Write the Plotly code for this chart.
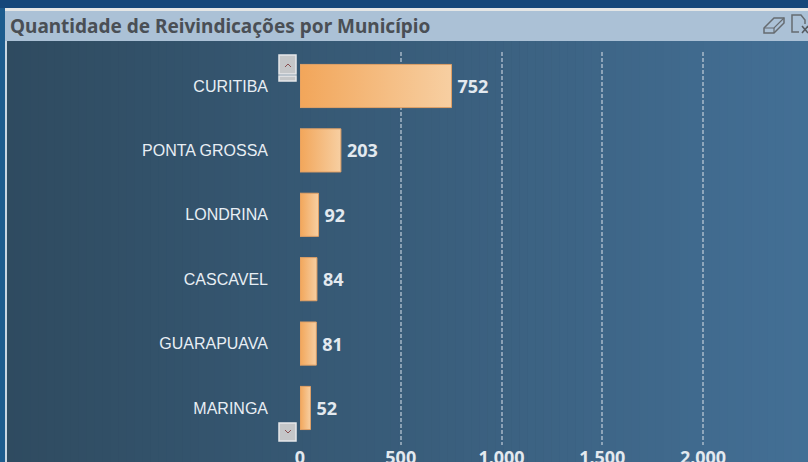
import plotly.graph_objects as go

municipios = ["CURITIBA", "PONTA GROSSA", "LONDRINA", "CASCAVEL", "GUARAPUAVA", "MARINGA"]
reivindicacoes = [752, 203, 92, 84, 81, 52]
tick_vals = [0, 500, 1000, 1500, 2000]
tick_text = ["0", "500", "1.000", "1.500", "2.000"]
titulo = "Quantidade de Reivindicações por Município"

W, H = 808, 462
fig = go.Figure(go.Bar(
    y=municipios, x=reivindicacoes, orientation="h",
    marker=dict(color="#f2a65a", line=dict(color="#e0a066", width=1)),
    text=["\u2009" + str(v) for v in reivindicacoes], textposition="outside", cliponaxis=False,
    textfont=dict(family="Noto Sans", size=18, color="#e3e9ef", weight="bold"),
    width=0.67,
))

def px(x):
    return (x-300)/(W-300)
def py(y):
    return (445-y)/393

def rect(x0, x1, y0, y1, color, layer="below", line=None):
    return dict(type="rect", xref="paper", yref="paper", layer=layer,
                x0=px(x0), x1=px(x1), y0=py(y1), y1=py(y0),
                fillcolor=color, line=line or dict(width=0))

def path(points, color, width=1.5, close=False, fill=None):
    d = "M " + " L ".join(f"{px(a):.5f},{py(b):.5f}" for a, b in points) + (" Z" if close else "")
    return dict(type="path", xref="paper", yref="paper", layer="above", path=d,
                line=dict(color=color, width=width), fillcolor=fill or "rgba(0,0,0,0)")

shapes = []
c0, c1 = (0x2f, 0x4b, 0x60), (0x43, 0x6f, 0x95)
n = 100
for i in range(n):
    t = i/(n-1)
    col = "rgb(%d,%d,%d)" % tuple(round(a+(b-a)*t) for a, b in zip(c0, c1))
    shapes.append(rect(6+i*(W-6)/n, 6+(i+1)*(W-6)/n+0.5, 41, H, col))
btn_line = dict(color="#e6e8ea", width=1.5)
shapes += [
    rect(0, W, 0, 8, "#15477a"),
    rect(0, 5, 8, H, "#1d5c8e"),
    rect(5, 7, 12, H, "#c8d6e2"),
    rect(5, W, 8, 11, "#e4e6e6"),
    rect(5, W, 11, 41, "#abc1d6"),
    # scroll buttons
    rect(279, 296, 55, 74, "#c4c6c8", "above", btn_line),
    rect(279, 296, 76, 81, "#c4c6c8", "above", btn_line),
    path([(285, 67), (288, 64), (291, 67)], "#8a5050", 1),
    rect(279, 296, 423, 441, "#c4c6c8", "above", btn_line),
    path([(285, 430), (288, 433), (291, 430)], "#8a5050", 1),
    # eraser icon
    path([(764, 28), (774, 18), (784, 18), (784, 23), (774, 33), (764, 33)], "#666b70", 1.5, True),
    path([(764, 28), (774, 28), (784, 18)], "#666b70", 1.2),
    path([(774, 28), (774, 33)], "#666b70", 1.2),
    # document icon
    path([(799, 32), (792, 32), (792, 15), (801, 15), (805, 20), (805, 24)], "#666b70", 1.5),
    path([(802, 26), (808, 33)], "#555a60", 1.5),
    path([(808, 26), (802, 33)], "#555a60", 1.5),
]

fig.update_layout(
    width=W, height=H, autosize=False, showlegend=False,
    margin=dict(l=300, r=0, t=52, b=17, pad=0, autoexpand=False),
    paper_bgcolor="#2f4b60", plot_bgcolor="rgba(0,0,0,0)",
    shapes=shapes,
    xaxis=dict(range=[0, (W-300)/0.2015], tickvals=tick_vals, ticktext=tick_text, automargin=False,
               showgrid=True, gridcolor="rgba(205,215,225,0.55)", griddash="4px,2px", gridwidth=1.5,
               zeroline=False, showline=False, ticks="", ticklen=0,
               tickfont=dict(family="Noto Sans", size=18, color="#e3e9ef", weight="bold")),
    yaxis=dict(range=[5.575, -0.528], showgrid=False, zeroline=False, showline=False, automargin=False,
               ticks="", ticklabelstandoff=31,
               tickfont=dict(family="Liberation Sans", size=16, color="#e8eef4")),
    annotations=[dict(xref="paper", yref="paper", x=px(8), y=py(26),
                      xanchor="left", yanchor="middle", showarrow=False, text="<b>"+titulo+"</b>",
                      font=dict(family="Noto Sans", size=19, color="#4a4f55"))],
)

post = """
document.documentElement.style.margin='0';
document.body.style.margin='0';
document.body.style.overflow='hidden';
var gd=document.querySelector('.js-plotly-plot');
var svg=gd.querySelector('svg.main-svg');
var ns='http://www.w3.org/2000/svg';
var defs=svg.querySelector('defs')||svg.insertBefore(document.createElementNS(ns,'defs'),svg.firstChild);
var g=document.createElementNS(ns,'linearGradient');
g.setAttribute('id','barGrad');g.setAttribute('x1','0');g.setAttribute('x2','1');g.setAttribute('y1','0');g.setAttribute('y2','0');
[['0','#f2a65a'],['1','#f7cfa2']].forEach(function(s){var st=document.createElementNS(ns,'stop');st.setAttribute('offset',s[0]);st.setAttribute('stop-color',s[1]);g.appendChild(st);});
defs.appendChild(g);
gd.querySelectorAll('.bars .point path').forEach(function(p){p.style.fill='url(#barGrad)';});
"""
fig.write_html("out.html", post_script=post, config=dict(displayModeBar=False))
